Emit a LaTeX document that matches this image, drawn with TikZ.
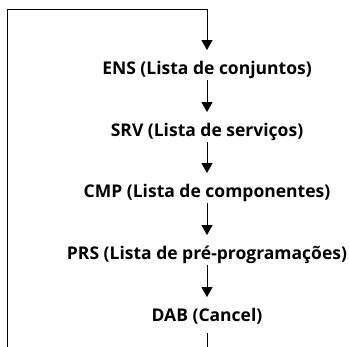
\documentclass[tikz,border=0pt]{standalone}
\usepackage{fontspec}
\setmainfont{Open Sans}
\usetikzlibrary{arrows.meta}

\begin{document}
\begin{tikzpicture}[line cap=butt,line join=miter,>={Triangle[width=11pt,length=10pt]},x=1pt,y=1pt,
	menu/.style={font=\bfseries\fontsize{17.5}{20}\selectfont,inner sep=0pt,text height=13pt,text depth=4.5pt},
	flow/.style={->,line width=1pt,shorten >=11pt,shorten <=1pt}]
			\useasboundingbox (0,0) rectangle (349,-347);
			\clip (0,0) rectangle (349,-347);
			\node[menu] (ens) at (207,-70) {ENS (Lista de conjuntos)};
			\node[menu] (srv) at (207,-132) {SRV (Lista de serviços)};
			\node[menu] (cmp) at (207,-193) {CMP (Lista de componentes)};
			\node[menu] (prs) at (207,-255) {PRS (Lista de pré-programações)};
			\node[menu] (dab) at (207,-317) {DAB (Cancel)};
			\coordinate (bl) at (7,-360);
			\coordinate (tl) at (7,-10);
			\draw[flow] (ens) -- (srv);
			\draw[flow] (srv) -- (cmp);
			\draw[flow] (cmp) -- (prs);
			\draw[flow] (prs) -- (dab);
			\draw[flow,shorten <=7pt] (dab) |- (bl) |- (tl) -| (ens);
\end{tikzpicture}
\end{document}
